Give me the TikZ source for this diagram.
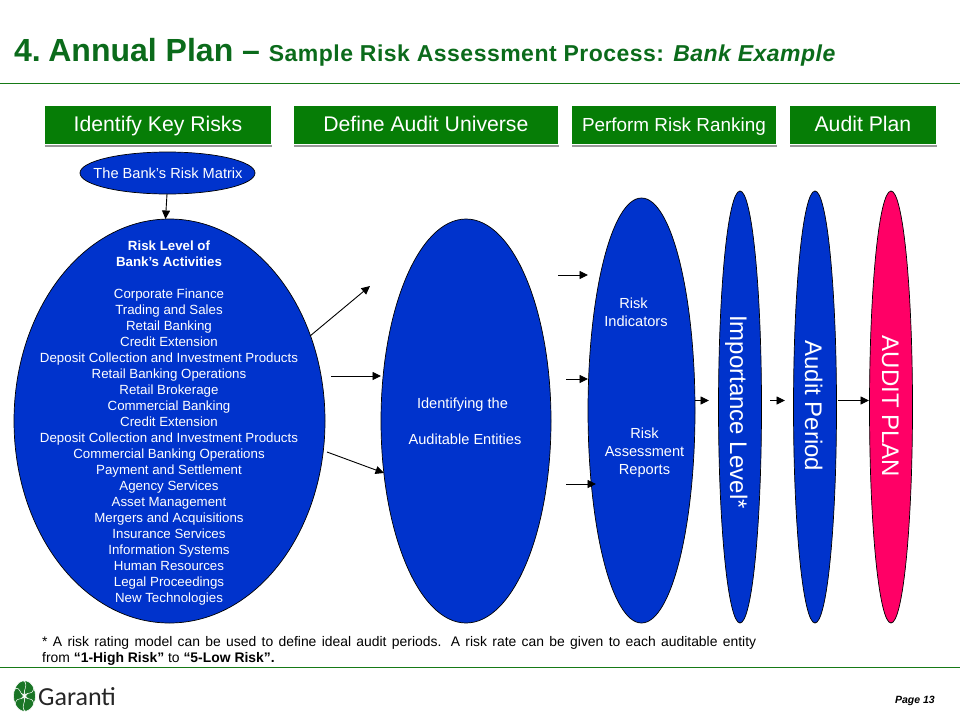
\documentclass[tikz,border=0pt]{standalone}
\usepackage{fontspec}
\setmainfont{Liberation Sans}
\newfontfamily\logofont{Carlito}
\usetikzlibrary{shapes.geometric,arrows.meta,shadows}
\definecolor{gtitle}{HTML}{0B6B1B}
\definecolor{gline}{HTML}{167A16}
\definecolor{gbox}{HTML}{067D06}
\definecolor{gblue}{HTML}{0033CC}
\definecolor{gpink}{HTML}{FF0066}
\definecolor{gleaf}{HTML}{1A7526}
\newcommand{\fs}[2]{\fontsize{#1}{#2}\selectfont}
\tikzset{
  x=1pt,y=-1pt,
  hdr/.style={draw=white,line width=.8pt,fill=gbox,text=white,inner sep=0pt,anchor=north west,
     minimum height=39pt,text height=17pt,text depth=3pt,
     drop shadow={shadow xshift=0.5pt,shadow yshift=-3pt,fill=black,opacity=.4}},
  oval/.style={ellipse,draw=black,line width=.7pt,fill=gblue,inner sep=0pt},
  wtxt/.style={text=white,align=center,inner sep=0pt},
  vtxt/.style={text=white,inner sep=0pt,rotate=-90,anchor=base,font=\fs{24}{26}},
  con/.style={draw=black,line width=.9pt,-{Triangle[length=8.5pt,width=8pt]}},
  hrule/.style={draw=gline,line width=.9pt},
  leaf/.style={fill=gleaf,draw=white,line width=.5pt}
}
\begin{document}
\begin{tikzpicture}
\useasboundingbox (0,0) rectangle (960,720);
\fill[white] (0,0) rectangle (960,720);
% title
\node[anchor=base west,inner sep=0pt,text=gtitle,font=\bfseries] (title) at (14,61)
  {\fs{32}{36}4.\hspace{7.5pt}Annual Plan -- \hspace{0pt}{\fs{23}{26}\addfontfeature{LetterSpace=2.1}Sample Risk Assessment Process: \itshape Bank Example}};
\coordinate (r1a) at (0,83); \coordinate (r1b) at (960,83);
\coordinate (r2a) at (0,667); \coordinate (r2b) at (960,667);
\draw[hrule] (r1a) -- (r1b);
\draw[hrule] (r2a) -- (r2b);
% header boxes
\node[hdr,minimum width=227pt,font=\fs{21.2}{24}] (h1) at (44,104.5) {Identify Key Risks};
\node[hdr,minimum width=265pt,font=\fs{21.2}{24}] (h2) at (293,104.5) {Define Audit Universe};
\node[hdr,minimum width=205pt,font=\fs{18.9}{24}] (h3) at (571,104.5) {Perform Risk Ranking};
\node[hdr,minimum width=147pt,font=\fs{21.2}{24}] (h4) at (789,104.5) {Audit Plan};
% ovals
\node[oval,minimum width=175pt,minimum height=42pt] (matrix) at (167.5,173) {};
\node[oval,minimum width=311pt,minimum height=404pt] (big) at (169.5,421) {};
\node[oval,minimum width=170pt,minimum height=404pt] (aud) at (466,421) {};
\node[oval,minimum width=107pt,minimum height=425pt] (risk) at (641.5,410.5) {};
\node[oval,minimum width=43pt,minimum height=432pt] (imp) at (740,407) {};
\node[oval,minimum width=43pt,minimum height=432pt] (per) at (815,407) {};
\node[oval,fill=gpink,minimum width=43pt,minimum height=432pt] (plan) at (891,407) {};
% text in ovals
\node[wtxt,font=\fs{14.6}{16}] (matrixt) at (168,173) {The Bank’s Risk Matrix};
\node[wtxt,font=\fs{13.3}{16}] (bigt) at (169,423) {{\bfseries Risk Level of}\\{\bfseries Bank’s Activities}\\[16pt]
Corporate Finance\\Trading and Sales\\Retail Banking\\Credit Extension\\Deposit Collection and Investment Products\\Retail Banking Operations\\Retail Brokerage\\Commercial Banking\\Credit Extension\\Deposit Collection and Investment Products\\Commercial Banking Operations\\Payment and Settlement\\Agency Services\\Asset Management\\Mergers and Acquisitions\\Insurance Services\\Information Systems\\Human Resources\\Legal Proceedings\\New Technologies};
\node[wtxt,font=\fs{14.6}{16}] (audt1) at (462.5,405) {Identifying the};
\node[wtxt,font=\fs{14.6}{16}] (audt2) at (465,439) {Auditable Entities};
\node[wtxt,font=\fs{14.6}{18}] (rt1) at (636,312) {\hspace{-5pt}Risk\\Indicators};
\node[wtxt,font=\fs{14.6}{18}] (rt2) at (644.5,453) {Risk\\Assessment\\Reports};
\node[vtxt] (impt) at (730,412) {Importance Level*};
\node[vtxt] (pert) at (805,406) {Audit Period};
\node[vtxt] (plant) at (882,406.5) {AUDIT PLAN};
% connector ends
\coordinate (a1s) at (310,336); \coordinate (a1e) at (370,286);
\coordinate (a2s) at (331,376); \coordinate (a2e) at (381,376);
\coordinate (a3s) at (327,452); \coordinate (a3e) at (384,473);
\coordinate (b1s) at (558,275); \coordinate (b1e) at (588,275);
\coordinate (b2s) at (566,379); \coordinate (b2e) at (588,379);
\coordinate (b3s) at (566,484); \coordinate (b3e) at (596,484);
\coordinate (c1s) at (695,400.5); \coordinate (c1e) at (709,400.5);
\coordinate (c2s) at (770,400.5); \coordinate (c2e) at (785,400.5);
\coordinate (c3s) at (838,400.5); \coordinate (c3e) at (869,400.5);
\coordinate (m1s) at (167,194); \coordinate (m1e) at (165.5,219);
\draw[con] (m1s) -- (m1e);
\draw[con] (a1s) -- (a1e);
\draw[con] (a2s) -- (a2e);
\draw[con] (a3s) -- (a3e);
\draw[con] (b1s) -- (b1e);
\draw[con] (b2s) -- (b2e);
\draw[con] (b3s) -- (b3e);
\draw[con] (c1s) -- (c1e);
\draw[con] (c2s) -- (c2e);
\draw[con] (c3s) -- (c3e);
% footnote
\node[anchor=north west,inner sep=0pt,text width=714pt,align=justify,font=\fs{13.9}{16}] (foot) at (42,636)
 {* A risk rating model can be used to define ideal audit periods. A risk rate can be given to each auditable entity\linebreak from {\bfseries “1-High Risk”} to {\bfseries “5-Low Risk”.}};
% logo
\begin{scope}[shift={(24.5,696)},yscale=1.4]
 \foreach \a in {0,60,120,180,240,300}{
  \filldraw[leaf,rotate=\a] (1,0) .. controls (4,-1.5) and (5,-6) .. (8,-5.5) .. controls (11,-5) and (10.5,-2) .. (11,0) .. controls (10.5,2) and (11,5) .. (8,5.5) .. controls (5,6) and (4,1.5) .. (1,0) -- cycle;
 }
\end{scope}
\node[anchor=base west,inner sep=0pt,font=\logofont\fs{26}{28},text=black!85] (logo) at (38,705) {Garanti};
\node[anchor=base east,inner sep=0pt,font=\bfseries\itshape\fs{10.5}{12}] (page) at (935,703) {Page 13};
\end{tikzpicture}
\end{document}
